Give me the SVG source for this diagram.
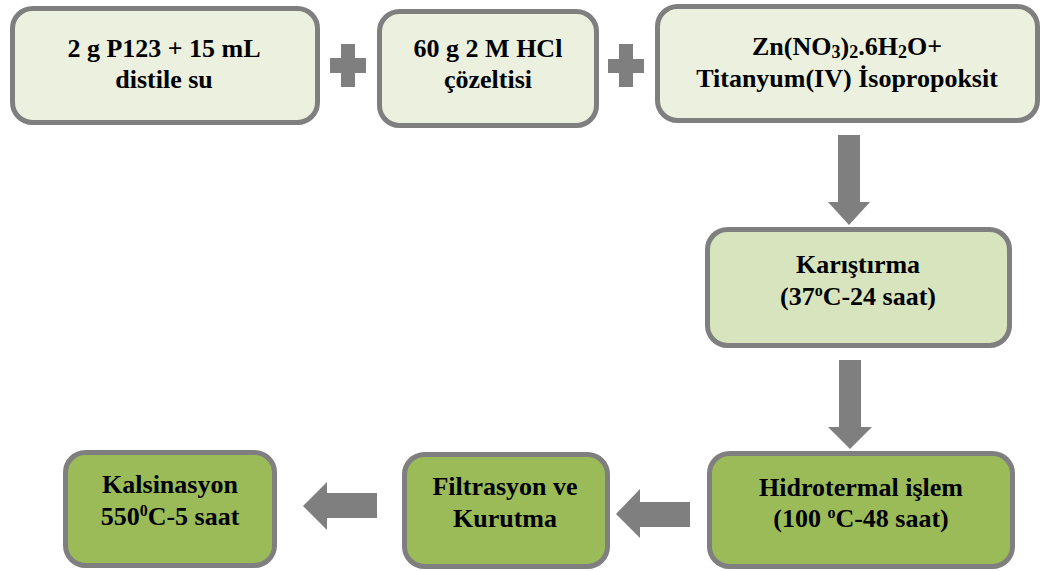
<svg xmlns="http://www.w3.org/2000/svg" width="1046" height="571" viewBox="0 0 1046 571">
<style>
.box{stroke:#7F7F7F;stroke-width:5}
.c1{fill:#EBF1DE}
.c2{fill:#D7E4BD}
.c3{fill:#9BBB59}
.arrow{fill:#7F7F7F}
text{font-family:'Liberation Serif','DejaVu Serif',serif;font-weight:bold;font-size:26px;fill:#000;text-anchor:middle}
.sub{font-size:18px}
.sup{font-size:16px}
</style>
<rect width="1046" height="571" fill="#FFFFFF"/>
<g id="connectors">
<path class="arrow" d="M341,44 H355 V58 H366 V73 H355 V87 H341 V73 H330 V58 H341 Z"/>
<path class="arrow" d="M619,44 H633 V59 H644 V73 H633 V87 H619 V73 H608 V59 H619 Z"/>
<polygon class="arrow" points="838,135 860,135 860,202 870,202 849,225 828,202 838,202"/>
<polygon class="arrow" points="839,360 861,360 861,427 872,427 850,449 828,427 839,427"/>
<polygon class="arrow" points="690,502 690,527 640,527 640,538 616,514 640,489 640,502"/>
<polygon class="arrow" points="377,493 377,518 327,518 327,530 303,506 327,482 327,493"/>
</g>
<g id="node-p123">
<rect class="box c1" x="12.5" y="8.5" width="305" height="114" rx="20"/>
<text x="164" y="57">2 g P123 + 15 mL</text>
<text x="164" y="88">distile su</text>
</g>
<g id="node-hcl">
<rect class="box c1" x="379.5" y="11.5" width="217" height="114" rx="20"/>
<text x="488" y="57">60 g 2 M HCl</text>
<text x="488" y="88">çözeltisi</text>
</g>
<g id="node-zn">
<rect class="box c1" x="657.5" y="6.5" width="380" height="114" rx="20"/>
<text x="847" y="55">Zn(NO<tspan class="sub" dy="3">3</tspan><tspan dy="-3">)</tspan><tspan class="sub" dy="3">2</tspan><tspan dy="-3">.6H</tspan><tspan class="sub" dy="3">2</tspan><tspan dy="-3">O+</tspan></text>
<text x="847" y="87">Titanyum(IV) İsopropoksit</text>
</g>
<g id="node-karistirma">
<rect class="box c2" x="707.5" y="229.5" width="302" height="116" rx="20"/>
<text x="858" y="273">Karıştırma</text>
<text x="858" y="305">(37<tspan class="sup" dy="-9">o</tspan><tspan dy="9">C-24 saat)</tspan></text>
</g>
<g id="node-hidrotermal">
<rect class="box c3" x="709.5" y="453.5" width="303" height="113" rx="20"/>
<text x="861" y="496">Hidrotermal işlem</text>
<text x="861" y="527">(100 <tspan class="sup" dy="-9">o</tspan><tspan dy="9">C-48 saat)</tspan></text>
</g>
<g id="node-filtrasyon">
<rect class="box c3" x="404.5" y="454.5" width="203" height="112" rx="20"/>
<text x="505" y="495">Filtrasyon ve</text>
<text x="505" y="527">Kurutma</text>
</g>
<g id="node-kalsinasyon">
<rect class="box c3" x="65.5" y="452.5" width="209" height="113" rx="20"/>
<text x="170" y="493">Kalsinasyon</text>
<text x="170" y="525">550<tspan class="sup" dy="-9">0</tspan><tspan dy="9">C-5 saat</tspan></text>
</g>
</svg>
